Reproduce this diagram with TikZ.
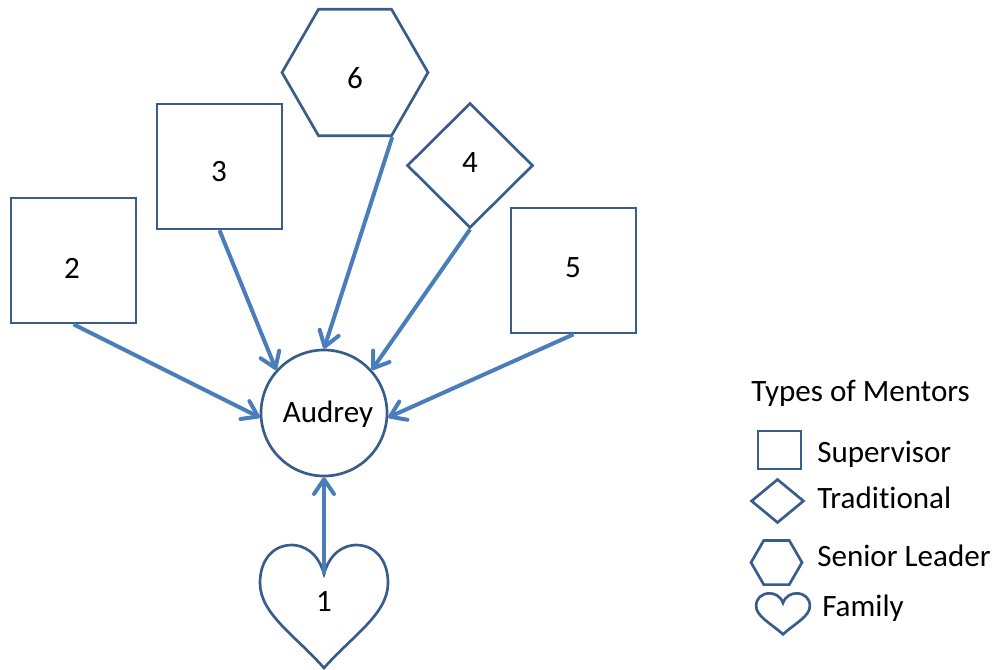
\documentclass[tikz,border=0pt]{standalone}
\usepackage{fontspec}
\setmainfont{Carlito}[Ligatures=NoCommon]
\usetikzlibrary{arrows.meta,shapes.geometric}
\definecolor{shapeblue}{HTML}{385D8A}
\definecolor{arrowblue}{HTML}{4A7EBB}
\tikzset{
  mentorline/.style={draw=shapeblue, line width=2pt, fill=white},
  supbox/.style={mentorline, rectangle, inner sep=0pt, minimum width=93.75pt, minimum height=93.75pt},
  tradbox/.style={mentorline, diamond, inner sep=0pt, minimum width=94.5pt, minimum height=93.75pt},
  leadbox/.style={mentorline, regular polygon, regular polygon sides=6, inner sep=0pt, minimum size=109.5pt},
  hub/.style={mentorline, circle, inner sep=0pt, minimum size=94.5pt},
  lbl/.style={inner sep=0pt},
  link/.style={draw=arrowblue, line width=3pt, -{Straight Barb[length=11pt,width=15pt,round]}},
  heart/.pic={
    \draw[mentorline] (0,0) .. controls (6,-22) and (21,-29) .. (32,-29)
      .. controls (51,-29) and (64,-14) .. (64,9)
      .. controls (64,40) and (28,62) .. (0,94)
      .. controls (-28,62) and (-64,40) .. (-64,9)
      .. controls (-64,-14) and (-51,-29) .. (-32,-29)
      .. controls (-21,-29) and (-6,-22) .. (0,0) -- cycle;
  }
}
\begin{document}
\begin{tikzpicture}[x=0.75pt, y=-0.75pt, font=\fontsize{23.3}{28}\selectfont]
\useasboundingbox (0,0) rectangle (995,670);

% central person
\node[hub] (audrey) at (324,413) {};
\node[lbl, anchor=base] (taudrey) at (328,422) {Audrey};

% mentors
\node[supbox] (m2) at (73.5,260.5) {};
\node[lbl] (t2) at (72,268) {2};
\node[supbox] (m3) at (219.5,166.5) {};
\node[lbl] (t3) at (219,172) {3};
\node[leadbox] (m6) at (355,72.5) {};
\node[lbl] (t6) at (355,78) {6};
\node[tradbox] (m4) at (470,165.5) {};
\node[lbl] (t4) at (470,163) {4};
\node[supbox] (m5) at (573.5,270.5) {};
\node[lbl] (t5) at (573,268) {5};
\pic at (324,574) {heart};
\coordinate (m1) at (324,574);
\node[lbl] (t1) at (324,601) {1};

% connections to Audrey
\draw[link] (m2.south) -- (audrey.184);
\draw[link] (m3.south) -- (audrey.138);
\draw[link] (m6.-60) -- (audrey.90);
\draw[link] (m4.south) -- (audrey.42);
\draw[link] (m5.south) -- (audrey.356);
\draw[link] (m1) -- (audrey.south);

% legend
\node[lbl, anchor=base west] (ltitle) at (751,401) {Types of Mentors};
\node[mentorline, rectangle, inner sep=0pt, minimum width=32.25pt, minimum height=28.5pt] (lsq) at (779.5,450) {};
\node[lbl, anchor=base west] (lsup) at (817,462) {Supervisor};
\node[mentorline, diamond, inner sep=0pt, minimum width=39.75pt, minimum height=33pt] (ldia) at (777.5,501) {};
\node[lbl, anchor=base west] (ltrad) at (817,508) {Traditional};
\node[mentorline, regular polygon, regular polygon sides=6, inner sep=0pt, minimum size=38.25pt] (lhex) at (776.5,562.5) {};
\node[lbl, anchor=base west] (llead) at (817,566) {Senior Leader};
\pic[xscale=0.42, yscale=0.333] at (783,603) {heart};
\node[lbl, anchor=base west] (lfam) at (822,616) {Family};
\end{tikzpicture}
\end{document}
